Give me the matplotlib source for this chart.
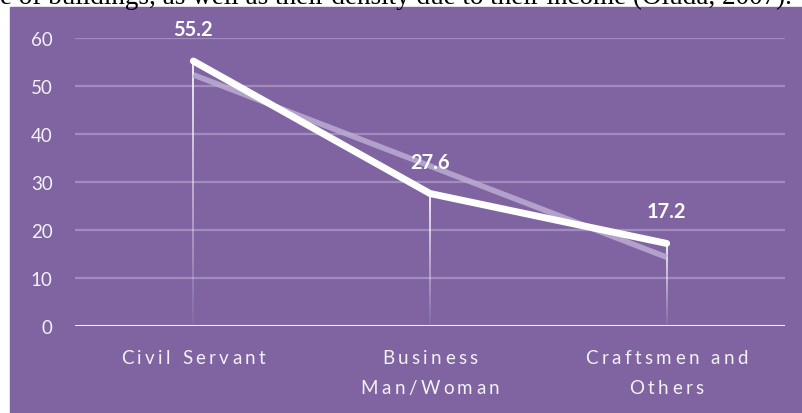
import matplotlib.pyplot as plt
import numpy as np
from matplotlib.collections import LineCollection
from matplotlib.patches import Rectangle
from matplotlib.font_manager import FontProperties
from matplotlib.transforms import offset_copy

categories = ['Civil Servant', 'Business\nMan/Woman', 'Craftsmen and\nOthers']
values = [55.2, 27.6, 17.2]
y_ticks = [0, 10, 20, 30, 40, 50, 60]
caption = 'e of buildings, as well as their density due to their income (Oluda, 2007).'

PURPLE = '#8064a2'
GRID = '#a08dbd'
TREND = '#bcadd3'
TEXT = '#f2f2f2'

W, H = 803, 414


def drop_line(ax, x, y_top, n=40):
    # thin white line that fades out toward the axis
    ys = np.linspace(y_top, 0, n + 1)
    segs = [[(x, ys[i]), (x, ys[i + 1])] for i in range(n)]
    alphas = np.linspace(0.95, 0.05, n)
    colors = [(1, 1, 1, a) for a in alphas]
    ax.add_collection(LineCollection(segs, colors=colors, linewidths=1.3, zorder=2))


def tracked_label(fig, ax, x, text, y_px, prop, tracking, line_gap):
    # category label with extra letter spacing, centred on x, y_px below the axis
    renderer = fig.canvas.get_renderer()
    base = ax.get_xaxis_transform()
    for j, line in enumerate(text.split('\n')):
        widths = [renderer.get_text_width_height_descent(c, prop, ismath=False)[0]
                  for c in line]
        total = sum(widths) + tracking * (len(line) - 1)
        pos = -total / 2
        for c, w in zip(line, widths):
            tr = offset_copy(base, fig=fig, x=pos * 72 / fig.dpi,
                             y=-(y_px + j * line_gap) * 72 / fig.dpi, units='points')
            ax.text(x, 0, c, transform=tr, fontproperties=prop, color=TEXT,
                    ha='left', va='center', clip_on=False)
            pos += w + tracking


def main():
    fig = plt.figure(figsize=(W / 100, H / 100), dpi=100)
    fig.patch.set_facecolor('white')

    # purple chart area
    fig.patches.append(Rectangle((10 / W, 0), 1 - 10 / W, (H - 8) / H,
                                 transform=fig.transFigure, color=PURPLE, zorder=-5))
    # cropped caption from the page above the chart
    fig.text(0 / W, (H - 4) / H, caption, family='Liberation Serif', fontsize=19.5,
             color='black', va='baseline', ha='left', zorder=-4)

    ax = fig.add_axes([75 / W, (H - 327) / H, (785 - 75) / W, (327 - 39) / H])
    ax.set_facecolor('none')
    xs = np.arange(1, len(values) + 1)

    ax.set_xlim(0.5, len(values) + 0.5)
    ax.set_ylim(0, 60)
    for t in y_ticks[1:]:
        ax.axhline(t, color=GRID, lw=1.6, zorder=1)
    ax.axhline(0, color='white', lw=2, zorder=3)

    for x, v in zip(xs, values):
        drop_line(ax, x, v)

    # linear trend line
    k, b = np.polyfit(xs, values, 1)
    ax.plot(xs, k * xs + b, color=TREND, lw=4, alpha=0.85, zorder=4,
            solid_capstyle='butt')

    ax.plot(xs, values, color='white', lw=5, zorder=5,
            solid_capstyle='round', solid_joinstyle='round')

    for x, v in zip(xs, values):
        ax.annotate(f'{v:.1f}', (x, v), xytext=(0, 23), textcoords='offset points',
                    ha='center', va='center', color='white', fontsize=14.5,
                    fontweight='bold', family='Lato', zorder=6,
                    annotation_clip=False)

    ax.set_yticks(y_ticks)
    ax.set_yticklabels([str(t) for t in y_ticks], family='Lato', fontsize=13.5,
                       color=TEXT)
    ax.tick_params(axis='y', length=0, pad=16)
    ax.set_xticks([])
    for s in ax.spines.values():
        s.set_visible(False)

    prop = FontProperties(family='Lato', size=13.5)
    for x, label in zip(xs, categories):
        tracked_label(fig, ax, x, label, 32, prop, 3.4, 30)

    fig.savefig('out.png', dpi=100, facecolor=fig.get_facecolor())


if __name__ == '__main__':
    main()
